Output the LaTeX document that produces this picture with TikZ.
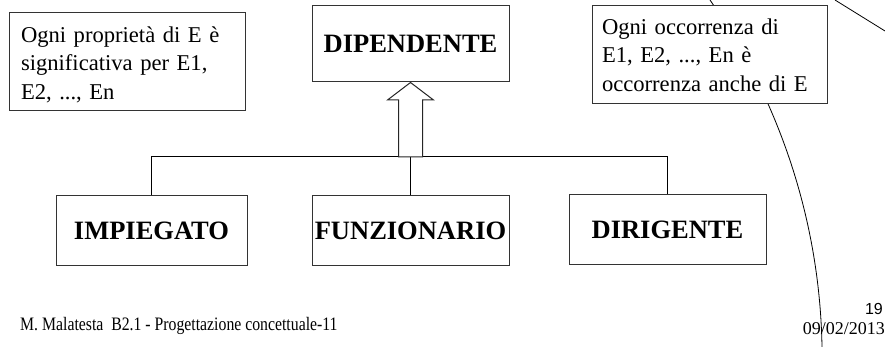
\documentclass[tikz,border=0pt]{standalone}
\usepackage{fontspec}
\setmainfont{Liberation Serif}
\newfontfamily\arialfont{Liberation Sans}
\begin{document}
\begin{tikzpicture}[x=1pt,y=-1pt,
  box/.style={draw=black!80,line width=1pt,fill=white,inner sep=0pt},
  ebox/.style={box,font=\fontsize{26.5}{30}\selectfont\bfseries,minimum height=69pt},
  tbox/.style={box,font=\fontsize{22.6}{28.5}\selectfont,align=left,minimum height=98pt},
  link/.style={draw=black,line width=1pt}]
\useasboundingbox (0,0) rectangle (885,347);
% decorative arcs
\draw[line width=0.8pt] (710,0) .. controls (785,110) and (820,230) .. (822,347);
\draw[line width=0.8pt] (835,0) -- (885,31);
% text boxes
\node[tbox,minimum width=236pt,text width=212pt] (note1) at (127,62)
  {\rule{0pt}{21pt}Ogni proprietà di E è\\significativa per E1,\\E2, ..., En};
\node[tbox,minimum width=235pt,text width=215pt] (note2) at (709.5,55)
  {Ogni occorrenza di\\E1, E2, ..., En è\\occorrenza anche di E};
% entities
\node[ebox,minimum width=197pt,minimum height=76pt] (dip) at (410.5,44) {DIPENDENTE};
\node[ebox,minimum width=191pt] (imp) at (151.5,230.5) {IMPIEGATO};
\node[ebox,minimum width=197pt] (fun) at (410.5,230.5) {FUNZIONARIO};
\node[ebox,minimum width=197pt] (dir) at (667.5,229.5) {DIRIGENTE};
% hierarchy
\coordinate (bar) at (410.5,157);
\draw[link] (imp.north) -- (imp.north |- bar) -- (dir.north |- bar) -- (dir.north);
\draw[link] (fun.north) -- (fun.north |- bar);
% hollow arrow
\draw[black!85,line width=1pt,fill=white]
  ([xshift=-12pt]bar) -- ([xshift=-12pt]dip.south |- 0,100) -- ([xshift=-23pt]dip.south |- 0,100)
  -- (dip.south) -- ([xshift=23pt]dip.south |- 0,100) -- ([xshift=12pt]dip.south |- 0,100)
  -- ([xshift=12pt]bar) -- cycle;
% footer
\node[anchor=base west,inner sep=0pt,font=\fontsize{19}{22}\selectfont] (foot) at (20,330)
  {\scalebox{0.83}[1]{M. Malatesta\ \ B2.1 - Progettazione concettuale-11}};
\node[anchor=base east,inner sep=0pt,font=\arialfont\fontsize{16}{19}\selectfont] (page) at (883,314) {19};
\node[anchor=base east,inner sep=0pt,font=\fontsize{18}{21}\selectfont] (date) at (885,334) {09/02/2013};
\end{tikzpicture}
\end{document}
